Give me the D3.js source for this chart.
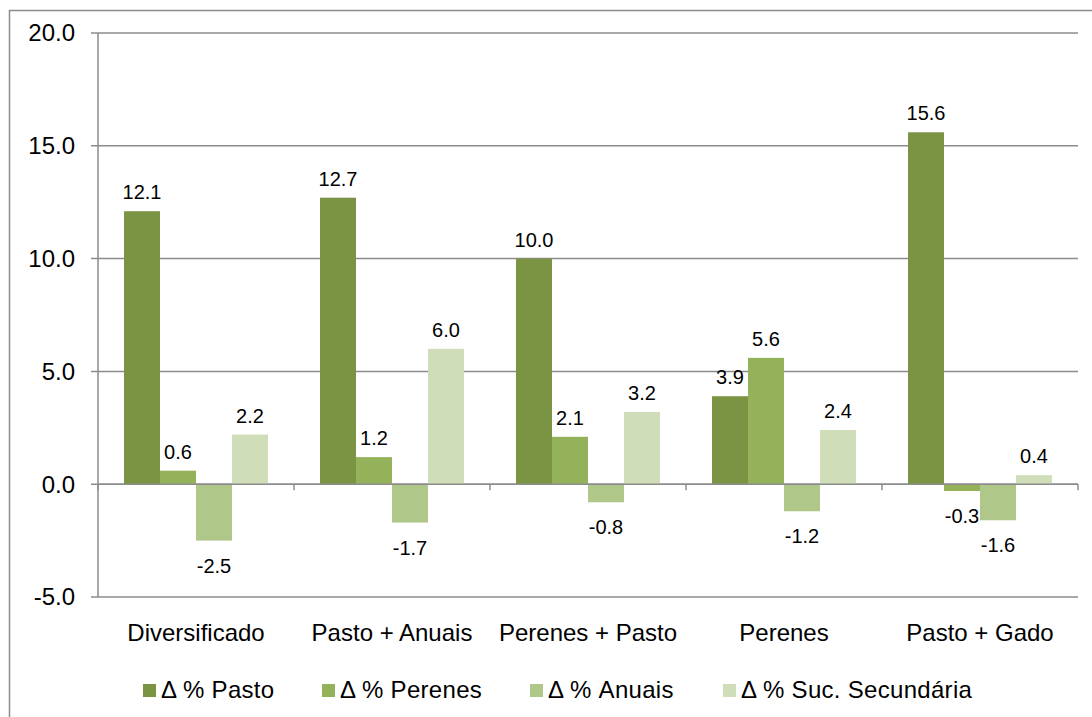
<!DOCTYPE html>
<html>
<head>
<meta charset="utf-8">
<script src="https://cdn.jsdelivr.net/npm/d3@7"></script>
<style>
    body { margin: 0; background: #fff; }
    text { font-family: "Liberation Sans", Arial, sans-serif; fill: #000; }
</style>
</head>
<body>
<div id="chart"></div>
<script>
// categorias e séries
const categories = ["Diversificado", "Pasto + Anuais", "Perenes + Pasto", "Perenes", "Pasto + Gado"];
const seriesNames = ["\u0394 % Pasto", "\u0394 % Perenes", "\u0394 % Anuais", "\u0394 % Suc. Secundária"];
const pasto = [12.1, 12.7, 10.0, 3.9, 15.6];
const perenes = [0.6, 1.2, 2.1, 5.6, -0.3];
const anuais = [-2.5, -1.7, -0.8, -1.2, -1.6];
const sucSecundaria = [2.2, 6.0, 3.2, 2.4, 0.4];
const yTicks = [-5, 0, 5, 10, 15, 20];
const colors = ["#7a9444", "#94b25a", "#afc788", "#cfddb9"];

const width = 1092, height = 717;
const plot = { left: 98, right: 1078, top: 33, bottom: 597 };

const svg = d3.select("#chart").append("svg")
    .attr("width", width)
    .attr("height", height);

// moldura externa
svg.append("rect")
    .attr("x", 9.5).attr("y", 10.5)
    .attr("width", width).attr("height", height)
    .attr("fill", "none")
    .attr("stroke", "#8c8c8c")
    .attr("stroke-width", 1.5);

const xScale = d3.scaleBand()
    .domain(categories)
    .range([plot.left, plot.right]);

const xInner = d3.scaleBand()
    .domain(d3.range(seriesNames.length))
    .range([26, xScale.bandwidth() - 26]);

const yScale = d3.scaleLinear()
    .domain([-5, 20])
    .range([plot.bottom, plot.top]);

// linhas de grade
svg.append("g")
    .selectAll("line")
    .data(yTicks)
    .enter()
    .append("line")
    .attr("x1", plot.left - 7).attr("x2", plot.right)
    .attr("y1", (d) => yScale(d)).attr("y2", (d) => yScale(d))
    .attr("stroke", "#8c8c8c")
    .attr("stroke-width", 1.5);

// eixo y
svg.append("line")
    .attr("x1", plot.left).attr("x2", plot.left)
    .attr("y1", plot.top).attr("y2", plot.bottom)
    .attr("stroke", "#8c8c8c")
    .attr("stroke-width", 1.5);

svg.append("g")
    .selectAll("text")
    .data(yTicks)
    .enter()
    .append("text")
    .attr("x", 75)
    .attr("y", (d) => yScale(d))
    .attr("dy", "0.35em")
    .attr("text-anchor", "end")
    .style("font-size", "24px")
    .text((d) => d.toFixed(1));

// barras
const allSeries = [pasto, perenes, anuais, sucSecundaria];
allSeries.forEach((values, i) => {
    const g = svg.append("g");
    const rows = categories.map((c, j) => ({ cat: c, v: values[j] }));

    g.selectAll("rect")
        .data(rows)
        .enter()
        .append("rect")
        .attr("x", (d) => xScale(d.cat) + xInner(i))
        .attr("y", (d) => yScale(Math.max(0, d.v)))
        .attr("width", xInner.bandwidth())
        .attr("height", (d) => Math.abs(yScale(d.v) - yScale(0)))
        .attr("fill", colors[i]);

    g.selectAll("text")
        .data(rows)
        .enter()
        .append("text")
        .attr("x", (d) => xScale(d.cat) + xInner(i) + xInner.bandwidth() / 2)
        .attr("y", (d) => d.v >= 0 ? yScale(d.v) - 12 : yScale(d.v) + 32)
        .attr("text-anchor", "middle")
        .style("font-size", "20px")
        .text((d) => d.v.toFixed(1));
});

// linha do zero e marcas de categoria
svg.append("line")
    .attr("x1", plot.left).attr("x2", plot.right)
    .attr("y1", yScale(0)).attr("y2", yScale(0))
    .attr("stroke", "#8c8c8c")
    .attr("stroke-width", 1.5);

svg.append("g")
    .selectAll("line")
    .data(categories.map((c) => xScale(c)).concat([plot.right]))
    .enter()
    .append("line")
    .attr("x1", (d) => d).attr("x2", (d) => d)
    .attr("y1", yScale(0)).attr("y2", yScale(0) + 6)
    .attr("stroke", "#8c8c8c")
    .attr("stroke-width", 1.5);

// rótulos de categoria
svg.append("g")
    .selectAll("text")
    .data(categories)
    .enter()
    .append("text")
    .attr("x", (d) => xScale(d) + xScale.bandwidth() / 2)
    .attr("y", 641)
    .attr("text-anchor", "middle")
    .style("font-size", "24px")
    .text((d) => d);

// legenda
const legendX = [143, 322, 530, 723];
const legend = svg.append("g");
seriesNames.forEach((name, i) => {
    legend.append("rect")
        .attr("x", legendX[i]).attr("y", 684)
        .attr("width", 13).attr("height", 13)
        .attr("fill", colors[i]);
    legend.append("text")
        .attr("x", legendX[i] + 18)
        .attr("y", 698)
        .style("font-size", "24px")
        .style("letter-spacing", "0.3px")
        .text(name);
});
</script>
</body>
</html>
